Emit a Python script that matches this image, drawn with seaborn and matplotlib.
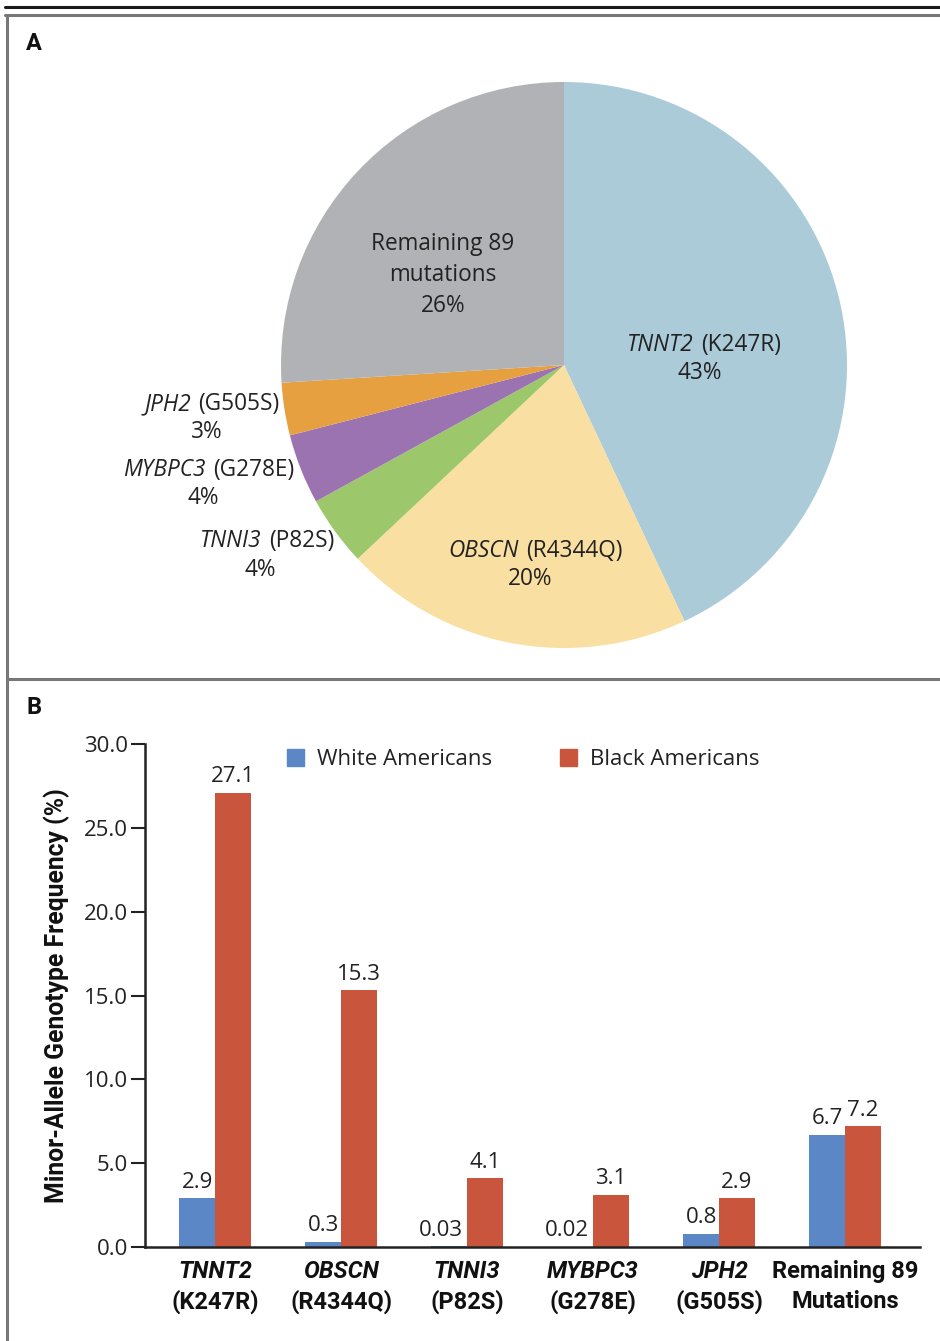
import matplotlib
matplotlib.use("Agg")
import matplotlib.pyplot as plt
from matplotlib.lines import Line2D
import seaborn as sns
import numpy as np
import pandas as pd

# Panel A data
pie_genes = ["TNNT2", "OBSCN", "TNNI3", "MYBPC3", "JPH2", "Remaining 89"]
pie_variants = ["(K247R)", "(R4344Q)", "(P82S)", "(G278E)", "(G505S)", "mutations"]
pie_shares = [43, 20, 4, 4, 3, 26]
pie_colors = ["#abcbd9", "#f9dfa1", "#9dc76b", "#9b73b0", "#e6a03f", "#b1b2b6"]

# Panel B data
bar_genes = ["TNNT2", "OBSCN", "TNNI3", "MYBPC3", "JPH2", "Remaining 89"]
bar_variants = ["(K247R)", "(R4344Q)", "(P82S)", "(G278E)", "(G505S)", "Mutations"]
white_freq = [2.9, 0.3, 0.03, 0.02, 0.8, 6.7]
black_freq = [27.1, 15.3, 4.1, 3.1, 2.9, 7.2]
white_labels = ["2.9", "0.3", "0.03", "0.02", "0.8", "6.7"]
black_labels = ["27.1", "15.3", "4.1", "3.1", "2.9", "7.2"]
groups = ["White Americans", "Black Americans"]
bar_colors = ["#5b87c7", "#c9553c"]

sns.set_style("white")
plt.rcParams["font.family"] = ["Open Sans", "DejaVu Sans"]
narrow = ["Roboto", "DejaVu Sans"]
txt = "#222222"

W, H = 940, 1341
fig = plt.figure(figsize=(W / 100, H / 100), dpi=100)


def fx(px):
    return px / W


def fy(py):
    return 1 - py / H


# frame lines
fig.add_artist(Line2D([fx(5), fx(940)], [fy(7), fy(7)], color="#1a1a1a", lw=2.2))
fig.add_artist(Line2D([fx(5), fx(940)], [fy(15), fy(15)], color="#777777", lw=2.2))
fig.add_artist(Line2D([fx(7), fx(7)], [fy(15), fy(1341)], color="#777777", lw=2.2))
fig.add_artist(Line2D([fx(7), fx(940)], [fy(679), fy(679)], color="#777777", lw=2.2))
fig.text(fx(26), fy(43), "A", fontsize=17, fontweight="bold", family=narrow,
         va="center", ha="left", color="#111111")
fig.text(fx(26), fy(707), "B", fontsize=17, fontweight="bold", family=narrow,
         va="center", ha="left", color="#111111")

# ---- Panel A: pie ----
cx, cy, r = 564, 365, 283
axp = fig.add_axes([fx(cx - r), fy(cy + r), 2 * r / W, 2 * r / H])
axp.pie(pie_shares, colors=pie_colors, startangle=90, counterclock=False,
        wedgeprops=dict(linewidth=0))
axp.set_xlim(-1, 1)
axp.set_ylim(-1, 1)
axp.set_aspect("equal")
axp.axis("off")


def pdc(px, py):
    return (px - cx) / r, (cy - py) / r


pie_fs = 16.3
# (split x, line1 y, pct center x, pct y) in pixel positions
pie_label_pos = {
    0: (694, 345, 700, 373),
    1: (519, 551, 530, 579),
    2: (262, 541, 260, 570),
    3: (206, 470, 203, 498),
    4: (191, 404, 207, 432),
}
for i, (sx, ly, pxc, py) in pie_label_pos.items():
    x, y = pdc(sx, ly)
    axp.text(x, y, pie_genes[i], style="italic", ha="right", va="center",
             fontsize=pie_fs, color=txt)
    axp.text(x + 7 / r, y, pie_variants[i], ha="left", va="center",
             fontsize=pie_fs, color=txt)
    x2, y2 = pdc(pxc, py)
    axp.text(x2, y2, f"{pie_shares[i]}%", ha="center", va="center",
             fontsize=pie_fs, color=txt)
x, y = pdc(443, 275)
axp.text(x, y, f"{pie_genes[5]}\n{pie_variants[5]}\n{pie_shares[5]}%", ha="center",
         va="center", fontsize=pie_fs, color=txt, linespacing=1.37)

# ---- Panel B: grouped bars ----
left, right, top, bottom = 145, 920, 744, 1247
axb = fig.add_axes([fx(left), fy(bottom), (right - left) / W, (bottom - top) / H])

df = pd.DataFrame({
    "gene": bar_genes * 2,
    "group": [groups[0]] * 6 + [groups[1]] * 6,
    "freq": white_freq + black_freq,
})
sns.barplot(data=df, x="gene", y="freq", hue="group", order=bar_genes,
            hue_order=groups, palette=bar_colors, width=0.57, ax=axb,
            saturation=1, edgecolor="none", linewidth=0, legend=False)

for k, (cont, labs) in enumerate(zip(axb.containers, [white_labels, black_labels])):
    anns = axb.bar_label(cont, labels=labs, padding=4, fontsize=16, color=txt)
    if k == 0:
        # tiny values: labels sit a little to the left, clear of the red bars
        for j in (2, 3):
            anns[j].xyann = (-6, 4)

axb.set_ylim(0, 30)
axb.set_xlim(-0.556, 5.595)
axb.set_yticks(np.arange(0, 30.1, 5))
axb.set_yticklabels([f"{v:.1f}" for v in np.arange(0, 30.1, 5)], fontsize=16, color=txt)
axb.set_xticks(range(len(bar_genes)))
axb.set_xticklabels([])
axb.tick_params(axis="y", direction="out", length=10, width=1.5, color="#222222", pad=2,
                left=True)
axb.tick_params(axis="x", length=0)
for side in ["top", "right"]:
    axb.spines[side].set_visible(False)
for side in ["left", "bottom"]:
    axb.spines[side].set_color("#222222")
    axb.spines[side].set_linewidth(1.8)
axb.set_xlabel("")
axb.set_ylabel("Minor-Allele Genotype Frequency (%)", fontsize=17.8, fontweight="bold",
               family=narrow, color="#111111", labelpad=10)

# category labels below the axis
for i, (g, v) in enumerate(zip(bar_genes, bar_variants)):
    is_gene = i < 5
    axb.text(i, -0.048, g, transform=axb.get_xaxis_transform(), ha="center", va="center",
             fontsize=17, fontweight="bold", style="italic" if is_gene else "normal",
             family=narrow, color="#111111")
    axb.text(i, -0.108, v, transform=axb.get_xaxis_transform(), ha="center", va="center",
             fontsize=17, fontweight="bold", family=narrow, color="#111111")

# legend
handles = [plt.Rectangle((0, 0), 1, 1, color=c) for c in bar_colors]
axb.legend(handles, groups, loc="upper left", bbox_to_anchor=(0.157, 1.03), ncol=2,
           frameon=False, fontsize=16, handlelength=0.8, handleheight=0.8,
           handletextpad=0.55, columnspacing=3.05, labelcolor=txt)

fig.savefig("out.png", dpi=100)
